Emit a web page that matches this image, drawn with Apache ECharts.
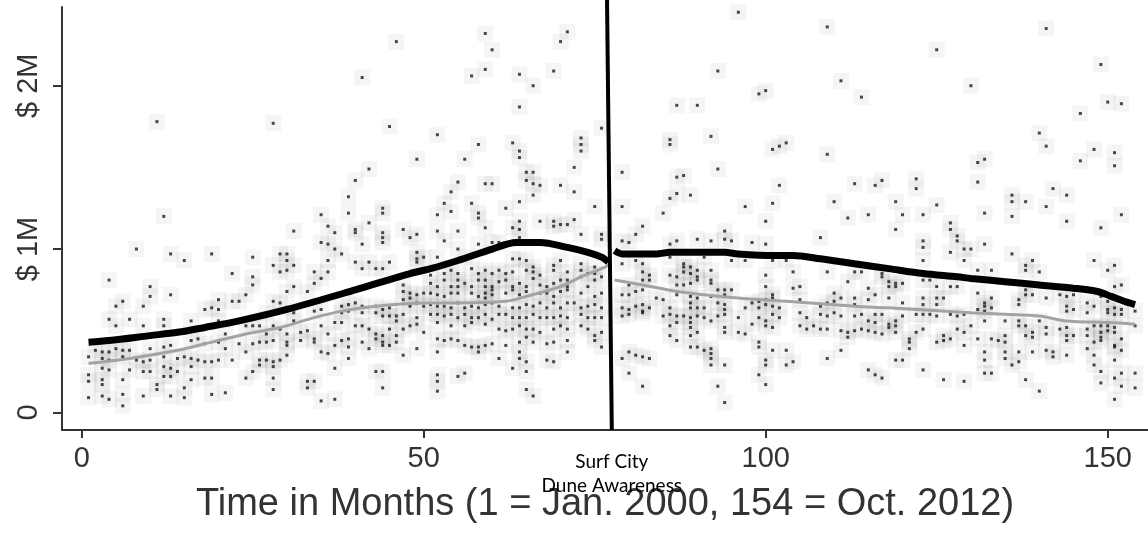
<!DOCTYPE html>
<html>
<head>
<meta charset="utf-8">
<script src="https://cdn.jsdelivr.net/npm/echarts@6/dist/echarts.min.js"></script>
<style>
html,body{margin:0;padding:0;background:#fff;}
#chart{width:1148px;height:536px;}
</style>
</head>
<body>
<div id="chart"></div>
<script>
// ---------- DATA (month, value in $ millions) ----------
const xTicks = [0, 50, 100, 150];
const yTicks = [0, 1, 2];
const yTickLabels = ['0', '$ 1M', '$ 2M'];
const xTitle = 'Time in Months (1 = Jan. 2000, 154 = Oct. 2012)';
const eventLabel = 'Surf City\nDune Awareness';
const eventMonthTop = 76.8;
const eventMonthBottom = 77.5;

const pts01to23 = [[11,1.78],[12,1.20],[8,1.00],[13,0.97],[15,0.93],[19,0.97],[4,0.81],[10,0.77],[22,0.85],[10,0.71],[13,0.72],[6,0.68],[5,0.65],[9,0.65],[20,0.69],[22,0.68],[23,0.68],[18,0.63],[19,0.64],[20,0.63],[4,0.57],[7,0.57],[12,0.57],[5,0.53],[9,0.53],[12,0.53],[16,0.56],[20,0.56],[21,0.48],
[2,0.38],[3,0.37],[4,0.37],[5,0.39],[6,0.38],[7,0.38],[10,0.39],[12,0.40],[13,0.41],[16,0.44],[17,0.45],[18,0.42],[20,0.43],[21,0.39],[23,0.42],
[1,0.34],[3,0.33],[4,0.32],[6,0.34],[8,0.32],[9,0.31],[10,0.32],[12,0.34],[14,0.33],[15,0.34],[16,0.33],[17,0.32],[18,0.31],[19,0.31],[20,0.32],[22,0.32],
[1,0.23],[3,0.27],[4,0.26],[7,0.26],[9,0.25],[10,0.25],[12,0.28],[13,0.27],[14,0.25],[16,0.28],
[1,0.19],[3,0.20],[6,0.20],[12,0.22],[13,0.22],[18,0.21],[19,0.21],[16,0.20],[3,0.17],[11,0.17],[11,0.14],[15,0.15],
[1,0.09],[3,0.10],[4,0.08],[6,0.11],[9,0.10],[13,0.10],[15,0.09],[19,0.11],[21,0.12],[6,0.04]];

const pts24to50 = [[46,2.27],[41,2.05],[28,1.77],[45,1.75],[49,1.55],[42,1.49],[40,1.42],[39,1.32],[39,1.22],[44,1.25],[44,1.22],[35,1.21],[42,1.16],[31,1.11],[36,1.14],[37,1.10],[40,1.12],[40,1.10],[44,1.10],[44,1.07],[44,1.04],[47,1.12],[49,1.09],[35,1.04],[36,1.03],[37,1.00],[38,0.97],[41,1.03],[49,0.98],[49,0.94],[49,0.92],[48,1.07],[25,0.95],[29,0.97],[30,0.97],[30,0.93],[28,0.90],[29,0.86],[30,0.87],[31,0.90],[36,0.93],[34,0.86],[36,0.86],[35,0.82],[40,0.92],[41,0.88],[42,0.92],[43,0.88],[44,0.88],[45,0.92],[25,0.83],[25,0.78],[31,0.77],[34,0.79],[24,0.72],[30,0.74],[33,0.74],[47,0.78],[47,0.74],[48,0.73],[49,0.72],
[27,0.61],[28,0.68],[29,0.67],[30,0.64],[31,0.61],[34,0.62],[35,0.63],[38,0.65],[38,0.61],[39,0.66],[39,0.62],[40,0.67],[41,0.65],[41,0.61],[43,0.65],[43,0.61],[44,0.63],[44,0.59],[45,0.64],[45,0.59],[46,0.59],[46,0.56],[47,0.69],[47,0.60],[48,0.70],[48,0.65],[49,0.67],[49,0.58],[49,0.54],[50,0.73],[50,0.65],
[24,0.53],[25,0.53],[26,0.53],[27,0.48],[28,0.53],[29,0.51],[30,0.48],[31,0.56],[32,0.49],[33,0.50],[34,0.45],[35,0.53],[36,0.48],[37,0.55],[38,0.55],[39,0.45],[40,0.53],[41,0.53],[42,0.51],[43,0.48],[44,0.47],[45,0.51],[46,0.47],[47,0.51],[48,0.53],[49,0.39],[50,0.49],
[24,0.37],[25,0.42],[26,0.43],[27,0.43],[28,0.44],[30,0.43],[30,0.41],[32,0.44],[34,0.43],[35,0.37],[36,0.36],[37,0.41],[38,0.44],[39,0.40],[41,0.43],[42,0.39],[43,0.45],[44,0.43],[44,0.41],[45,0.41],[46,0.43],[47,0.35],
[24,0.21],[25,0.25],[26,0.32],[26,0.29],[27,0.32],[28,0.31],[28,0.28],[28,0.21],[28,0.14],[29,0.32],[30,0.35],[33,0.19],[34,0.19],[33,0.15],[37,0.27],[39,0.33],[43,0.25],[44,0.25],[44,0.15],[35,0.07],[37,0.08]];

const pts51to76 = [[59,2.32],[71,2.33],[60,2.22],[70,2.27],[59,2.10],[57,2.06],[64,2.07],[69,2.09],[66,2.00],[64,1.87],[52,1.70],[58,1.64],[63,1.65],[56,1.55],[64,1.60],[64,1.56],[73,1.68],[73,1.64],[73,1.60],[72,1.50],[76,1.74],[65,1.47],[66,1.47],[55,1.41],[59,1.40],[60,1.40],[65,1.42],[66,1.40],[67,1.39],[70,1.39],[72,1.35],[54,1.35],[66,1.33],[75,1.26],[53,1.28],[57,1.28],[62,1.25],[64,1.29],[58,1.22],[58,1.19],[54,1.23],[52,1.21],[67,1.17],[69,1.17],[69,1.14],[70,1.15],[71,1.15],[72,1.18],[59,1.13],[64,1.17],[64,1.12],[63,1.13],[52,1.11],[55,1.11],[73,1.09],[76,1.09],[76,1.06],[60,1.04],[61,1.04],[64,1.07],[53,1.05],[55,1.00],[58,1.03],[50,0.95],[52,0.95],[56,0.95],[63,0.94],[64,0.94],[65,0.93],[69,0.90],[70,0.93],[73,0.91],[75,0.85],
[51,0.84],[53,0.85],[54,0.87],[55,0.85],[57,0.88],[58,0.85],[59,0.87],[60,0.85],[61,0.87],[62,0.85],[63,0.86],[65,0.87],[66,0.89],[67,0.84],[69,0.87],[71,0.86],[73,0.87],[74,0.85],[75,0.89],
[51,0.79],[52,0.77],[53,0.81],[54,0.77],[55,0.81],[55,0.77],[56,0.79],[57,0.77],[58,0.81],[59,0.81],[59,0.77],[60,0.77],[61,0.80],[62,0.81],[63,0.77],[64,0.79],[65,0.77],[66,0.86],[66,0.82],[67,0.78],[68,0.77],[69,0.79],[70,0.81],[71,0.81],[71,0.77],[73,0.83],[74,0.77],[75,0.81],[76,0.83],
[51,0.73],[52,0.72],[53,0.71],[54,0.73],[55,0.73],[57,0.73],[58,0.71],[59,0.73],[59,0.70],[60,0.75],[60,0.72],[62,0.73],[63,0.75],[64,0.72],[65,0.74],[67,0.73],[68,0.73],[69,0.71],[70,0.74],[71,0.75],[73,0.73],[75,0.71],[76,0.73],
[51,0.66],[52,0.65],[53,0.65],[54,0.64],[55,0.67],[56,0.64],[57,0.65],[58,0.64],[59,0.66],[60,0.67],[61,0.65],[63,0.64],[64,0.64],[65,0.66],[66,0.65],[67,0.67],[68,0.64],[69,0.67],[70,0.64],[71,0.67],[72,0.67],[73,0.64],[74,0.65],[75,0.66],[76,0.64],
[51,0.60],[52,0.60],[53,0.59],[54,0.60],[55,0.58],[56,0.60],[57,0.58],[58,0.58],[59,0.60],[60,0.57],[61,0.60],[62,0.60],[63,0.58],[64,0.58],[65,0.58],[66,0.60],[67,0.58],[68,0.58],[69,0.58],[70,0.59],[71,0.58],[73,0.60],[74,0.58],[75,0.58],[76,0.58],
[52,0.55],[54,0.53],[56,0.53],[57,0.55],[59,0.54],[61,0.51],[62,0.50],[63,0.51],[64,0.53],[65,0.51],[66,0.51],[67,0.49],[69,0.51],[70,0.53],[71,0.51],[73,0.53],[74,0.51],[75,0.47],[76,0.49],
[52,0.45],[53,0.44],[54,0.45],[55,0.44],[56,0.41],[57,0.40],[58,0.40],[59,0.41],[60,0.42],[62,0.41],[64,0.43],[65,0.46],[66,0.43],[68,0.42],[69,0.43],[71,0.44],[75,0.44],[76,0.40],
[52,0.37],[58,0.37],[61,0.33],[64,0.37],[64,0.33],[65,0.31],[68,0.32],[69,0.31],[71,0.37],
[52,0.23],[52,0.19],[52,0.13],[55,0.22],[56,0.24],[63,0.27],[65,0.25],[65,0.14],[66,0.10]];

const pts77to103 = [[96,2.45],[93,2.09],[99,1.95],[100,1.97],[87,1.88],[90,1.88],[92,1.69],[86,1.67],[86,1.64],[101,1.61],[102,1.63],[103,1.65],[79,1.47],[87,1.44],[88,1.45],[93,1.49],[102,1.39],[86,1.31],[87,1.34],[89,1.33],[79,1.26],[97,1.26],[101,1.28],[85,1.22],[100,1.17],[82,1.14],[81,1.09],[79,1.05],[80,1.04],[87,1.05],[90,1.06],[92,1.05],[94,1.11],[94,1.06],[95,1.05],[98,1.04],[100,1.03],[86,1.03],
[79,0.91],[81,0.93],[82,0.91],[86,0.95],[88,0.91],[89,0.89],[90,0.87],[91,0.95],[92,0.87],[95,0.93],[97,0.93],[101,0.93],[103,0.93],
[82,0.86],[83,0.84],[86,0.84],[87,0.83],[88,0.89],[88,0.86],[89,0.85],[90,0.83],[92,0.81],[100,0.84],
[80,0.78],[82,0.81],[83,0.81],[87,0.78],[88,0.78],[89,0.79],[90,0.81],[92,0.79],[94,0.75],[95,0.75],[100,0.77],[101,0.72],
[79,0.72],[80,0.72],[81,0.74],[82,0.75],[84,0.70],[85,0.69],[87,0.72],[89,0.71],[90,0.70],[92,0.71],[93,0.75],[94,0.72],[98,0.67],[99,0.68],[100,0.69],[101,0.70],
[79,0.64],[80,0.63],[81,0.65],[82,0.66],[82,0.62],[83,0.64],[86,0.64],[89,0.67],[89,0.64],[90,0.64],[91,0.64],[93,0.67],[94,0.66],[94,0.63],[97,0.64],[99,0.64],[100,0.66],[101,0.65],[102,0.64],
[79,0.59],[80,0.60],[82,0.61],[85,0.59],[86,0.60],[87,0.59],[88,0.59],[89,0.58],[90,0.59],[91,0.58],[92,0.56],[93,0.59],[94,0.60],[96,0.58],[98,0.54],[99,0.58],[100,0.56],[101,0.60],[102,0.58],
[86,0.53],[87,0.55],[89,0.55],[89,0.52],[90,0.49],[94,0.52],[94,0.49],[96,0.49],[97,0.48],[100,0.53],[101,0.52],
[86,0.47],[87,0.44],[89,0.47],[89,0.40],[90,0.40],[91,0.38],[92,0.39],[92,0.36],[99,0.43],[99,0.40],[101,0.38],[103,0.38],
[79,0.33],[80,0.37],[81,0.35],[82,0.34],[83,0.33],[92,0.33],[92,0.29],[94,0.29],[100,0.32],[100,0.29],[103,0.29],
[80,0.24],[82,0.16],[93,0.16],[94,0.06],[99,0.23],[100,0.17]];

const pts104to130 = [[109,2.36],[125,2.22],[111,2.03],[114,1.93],[130,2.00],[109,1.58],[113,1.40],[116,1.39],[117,1.42],[122,1.43],[122,1.37],[110,1.29],[119,1.29],[125,1.27],[112,1.19],[115,1.21],[120,1.21],[123,1.21],[119,1.12],[127,1.16],[127,1.12],[128,1.08],[128,1.05],[108,1.07],[123,1.05],[123,1.01],[123,0.93],[129,1.00],[130,1.00],[129,0.93],[127,0.98],
[104,0.86],[109,0.86],[113,0.86],[114,0.86],[117,0.85],[117,0.83],
[105,0.77],[104,0.76],[110,0.73],[111,0.70],[112,0.80],[113,0.70],[115,0.76],[116,0.72],[118,0.80],[118,0.77],[119,0.77],[119,0.79],[120,0.79],[123,0.81],[124,0.81],[125,0.77],[127,0.77],[128,0.77],
[105,0.69],[108,0.65],[109,0.67],[110,0.68],[113,0.66],[115,0.69],[118,0.70],[120,0.67],[123,0.70],[123,0.66],[125,0.70],[125,0.66],[126,0.70],
[105,0.61],[106,0.58],[107,0.53],[108,0.60],[109,0.59],[110,0.61],[111,0.59],[113,0.59],[114,0.60],[115,0.56],[116,0.55],[116,0.60],[117,0.60],[118,0.54],[119,0.56],[120,0.59],[122,0.60],[123,0.60],[124,0.60],[125,0.59],[127,0.60],[128,0.59],[129,0.60],[130,0.53],
[105,0.53],[106,0.51],[108,0.51],[109,0.51],[111,0.50],[112,0.49],[112,0.46],[113,0.50],[114,0.51],[115,0.50],[116,0.49],[117,0.48],[118,0.52],[119,0.53],[119,0.49],[121,0.45],[121,0.43],[121,0.39],[122,0.49],[123,0.51],[125,0.43],[126,0.44],[126,0.47],[127,0.45],[128,0.51],[129,0.41],[129,0.49],
[104,0.31],[109,0.33],[111,0.38],[119,0.32],[120,0.32],[123,0.26],[115,0.26],[116,0.23],[117,0.21],[126,0.20],[129,0.19]];

const pts131to154 = [[141,2.35],[149,2.13],[150,1.90],[152,1.89],[146,1.83],[140,1.71],[141,1.63],[148,1.61],[146,1.54],[151,1.59],[151,1.51],[131,1.53],[132,1.55],[131,1.41],[142,1.37],[136,1.33],[136,1.29],[138,1.29],[141,1.26],[144,1.33],[132,1.22],[152,1.21],[136,1.20],[144,1.17],[149,1.13],[132,1.03],[136,0.97],[139,0.93],[138,0.90],[138,0.87],[131,0.87],[133,0.87],[140,0.86],[148,0.93],[150,0.87],[151,0.90],[151,0.77],[152,0.78],
[131,0.73],[132,0.67],[132,0.65],[133,0.70],[137,0.69],[138,0.75],[138,0.72],[139,0.72],[141,0.70],[143,0.72],[144,0.71],[145,0.72],[147,0.67],[149,0.71],[150,0.68],
[131,0.63],[132,0.62],[133,0.64],[137,0.66],[144,0.65],[144,0.62],[145,0.63],[147,0.61],[148,0.65],[150,0.63],[150,0.61],[151,0.64],[152,0.63],[154,0.62],[151,0.60],[152,0.60],
[132,0.56],[135,0.56],[137,0.56],[137,0.53],[138,0.53],[139,0.49],[140,0.56],[141,0.52],[141,0.48],[143,0.51],[144,0.52],[144,0.47],[145,0.47],[147,0.51],[148,0.53],[149,0.53],[149,0.49],[149,0.46],[150,0.53],[150,0.50],[151,0.52],[151,0.49],[152,0.45],[154,0.53],
[131,0.45],[133,0.45],[134,0.44],[135,0.47],[135,0.43],[138,0.47],[139,0.46],[141,0.38],[142,0.37],[144,0.44],[147,0.47],[147,0.39],[148,0.43],[149,0.44],[151,0.41],[151,0.40],
[132,0.37],[132,0.32],[135,0.37],[135,0.33],[136,0.29],[137,0.37],[137,0.31],[139,0.37],[142,0.34],[144,0.35],[148,0.35],[148,0.29],[151,0.32],[152,0.38],
[132,0.24],[133,0.24],[138,0.20],[140,0.13],[149,0.25],[149,0.18],[151,0.08],[151,0.21],[152,0.24],[154,0.24],[154,0.15],[152,0.16]];

// smoothed trend lines (black = upper, gray = lower), before / after the event
const blackBefore = [[1,0.43],[4,0.44],[10,0.47],[14,0.49],[18,0.52],[23,0.56],[30,0.63],[40,0.75],[48,0.85],[51,0.88],[55,0.93],[60,1.00],[63.5,1.04],[67,1.04],[71,1.01],[74,0.98],[76,0.95],[77,0.92]];
const blackAfter = [[77.9,0.99],[79,0.97],[84,0.97],[86,0.98],[94,0.98],[96,0.97],[101,0.96],[104,0.96],[108,0.94],[113,0.91],[118,0.88],[123,0.85],[128,0.83],[130,0.82],[135,0.80],[140,0.78],[145,0.76],[148.5,0.74],[150.5,0.71],[152.4,0.68],[154,0.66]];
const grayBefore = [[1,0.30],[7,0.33],[14,0.38],[19,0.43],[24,0.48],[29,0.52],[34,0.58],[38,0.62],[43,0.65],[50,0.67],[55,0.67],[62,0.68],[65,0.71],[70,0.77],[73,0.83],[76,0.88],[77,0.90]];
const grayAfter = [[77.9,0.81],[82,0.78],[87,0.74],[91,0.72],[96,0.70],[103,0.68],[113,0.65],[118,0.64],[130,0.61],[135,0.60],[140,0.59],[144,0.56],[150,0.55],[154,0.54]];

// ---------- CHART ----------
const X_MIN = -2.88, X_MAX = 155.89, Y_MIN = -0.108, Y_MAX = 2.482;
const allPoints = [].concat(pts01to23, pts24to50, pts51to76, pts77to103, pts104to130, pts131to154);
const axisColor = '#333';
const font = 'Liberation Sans, Arial, sans-serif';

const chart = echarts.init(document.getElementById('chart'), null, {renderer: 'canvas'});
const option = {
  animation: false,
  backgroundColor: '#fff',
  grid: {left: 62, right: 0, top: 7, bottom: 106, containLabel: false},
  xAxis: {
    type: 'value', min: X_MIN, max: X_MAX,
    axisLine: {show: true, onZero: false, lineStyle: {color: axisColor, width: 2}},
    axisTick: {show: true, customValues: xTicks, length: 8, lineStyle: {color: axisColor, width: 2}},
    axisLabel: {customValues: xTicks, fontSize: 29, color: axisColor, margin: 14, fontFamily: font},
    splitLine: {show: false},
    name: xTitle, nameLocation: 'middle', nameGap: 56,
    nameTextStyle: {fontSize: 38, color: axisColor, fontFamily: font}
  },
  yAxis: {
    type: 'value', min: Y_MIN, max: Y_MAX,
    axisLine: {show: true, onZero: false, lineStyle: {color: axisColor, width: 2}},
    axisTick: {show: true, customValues: yTicks, length: 9, lineStyle: {color: axisColor, width: 2}},
    axisLabel: {customValues: yTicks, rotate: 90, fontSize: 29, color: axisColor, margin: 19, fontFamily: font,
      formatter: v => yTickLabels[yTicks.indexOf(Math.round(v))]},
    splitLine: {show: false}
  },
  series: [
    {type: 'scatter', data: allPoints, symbol: 'rect', symbolSize: 16,
      itemStyle: {color: 'rgba(0,0,0,0.05)'}, silent: true, z: 1},
    {type: 'scatter', data: allPoints, symbol: 'rect', symbolSize: 3,
      itemStyle: {color: '#1a1a1a'}, silent: true, z: 2},
    {type: 'line', data: grayBefore, showSymbol: false, smooth: 0.3, lineStyle: {color: '#a3a3a3', width: 3}, z: 3},
    {type: 'line', data: grayAfter, showSymbol: false, smooth: 0.3, lineStyle: {color: '#a3a3a3', width: 3}, z: 3},
    {type: 'line', data: blackBefore, showSymbol: false, smooth: 0.3, lineStyle: {color: '#000', width: 7}, z: 4},
    {type: 'line', data: blackAfter, showSymbol: false, smooth: 0.3, lineStyle: {color: '#000', width: 7}, z: 4},
    {type: 'line', clip: false, symbol: 'circle', symbolSize: 0, showSymbol: true, z: 5,
      lineStyle: {color: '#000', width: 4},
      data: [[eventMonthTop, 2.53], {value: [eventMonthBottom, Y_MIN],
        label: {show: true, position: 'bottom', distance: 20, formatter: eventLabel,
          fontSize: 19, lineHeight: 24, color: '#000', fontFamily: 'Lato, sans-serif', align: 'center'}}]}
  ]
};
chart.setOption(option);
</script>
</body>
</html>
